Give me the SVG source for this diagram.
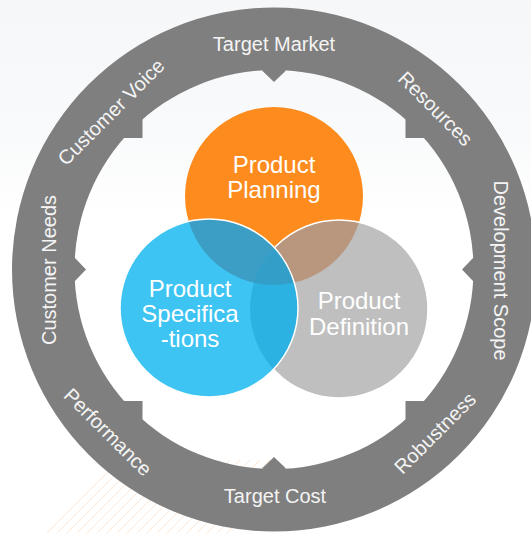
<svg xmlns="http://www.w3.org/2000/svg" width="531" height="533" viewBox="0 0 531 533">
  <defs>
    <linearGradient id="bg" x1="0" y1="0" x2="0" y2="1">
      <stop offset="0" stop-color="#f6f7f9"/>
      <stop offset="0.25" stop-color="#f9fafb"/>
      <stop offset="0.4" stop-color="#ffffff"/>
      <stop offset="1" stop-color="#ffffff"/>
    </linearGradient>
    <clipPath id="cO"><circle cx="274" cy="196" r="89"/></clipPath>
    <clipPath id="cG"><circle cx="339" cy="309" r="89"/></clipPath>
    <clipPath id="cHatch"><rect x="40" y="455" width="230" height="78"/></clipPath>
    <style>
      .ring { fill: #7f7f7f; }
      .rl { font-family: "Liberation Sans", Arial, sans-serif; font-size: 20px; fill: #f4f4f4; text-anchor: middle; }
      .cl { font-family: "Liberation Sans", Arial, sans-serif; font-size: 24px; fill: #ffffff; text-anchor: middle; }
      .hatch line { stroke: #fbe2c9; stroke-width: 1; }
    </style>
  </defs>
  <rect width="531" height="533" fill="url(#bg)"/>
  <g class="hatch" clip-path="url(#cHatch)" opacity="0.8">
    <line x1="40" y1="540" x2="120" y2="460"/>
    <line x1="50" y1="540" x2="130" y2="460"/>
    <line x1="60" y1="540" x2="140" y2="460"/>
    <line x1="70" y1="540" x2="150" y2="460"/>
    <line x1="80" y1="540" x2="160" y2="460"/>
    <line x1="90" y1="540" x2="170" y2="460"/>
    <line x1="100" y1="540" x2="180" y2="460"/>
    <line x1="110" y1="540" x2="190" y2="460"/>
    <line x1="120" y1="540" x2="200" y2="460"/>
    <line x1="130" y1="540" x2="210" y2="460"/>
    <line x1="140" y1="540" x2="220" y2="460"/>
    <line x1="150" y1="540" x2="230" y2="460"/>
    <line x1="160" y1="540" x2="240" y2="460"/>
    <line x1="170" y1="540" x2="250" y2="460"/>
    <line x1="180" y1="540" x2="260" y2="460"/>
    <line x1="190" y1="540" x2="270" y2="460"/>
    <line x1="200" y1="540" x2="280" y2="460"/>
    <line x1="210" y1="540" x2="290" y2="460"/>
    <line x1="220" y1="540" x2="300" y2="460"/>
  </g>

  <g id="ring">
    <path class="ring" fill-rule="evenodd" d="M12,269.5 A262,262 0 1 1 536,269.5 A262,262 0 1 1 12,269.5 Z M74.5,269.5 A199.5,199.5 0 1 0 473.5,269.5 A199.5,199.5 0 1 0 74.5,269.5 Z"/>
    <polygon class="ring" points="262.5,60 285.5,60 285.5,71 274,82 262.5,71"/>
    <polygon class="ring" points="262.5,479 285.5,479 285.5,468 274,457 262.5,468"/>
    <polygon class="ring" points="64,258 75,258 86,269.5 75,281 64,281"/>
    <polygon class="ring" points="484,258 473,258 462,269.5 473,281 484,281"/>
    <polygon class="ring" points="142.5,138 142.5,112 116.5,112 116.5,138"/>
    <polygon class="ring" points="405.5,138 405.5,112 431.5,112 431.5,138"/>
    <polygon class="ring" points="142.5,401 142.5,427 116.5,427 116.5,401"/>
    <polygon class="ring" points="405.5,401 405.5,427 431.5,427 431.5,401"/>
  </g>

  <g id="label-target-market"><text class="rl" x="274" y="51">Target Market</text></g>
  <g id="label-resources"><text class="rl" transform="translate(435.5,108.5) rotate(45)" y="7">Resources</text></g>
  <g id="label-development-scope"><text class="rl" transform="translate(500.5,270.5) rotate(90)" y="7">Development Scope</text></g>
  <g id="label-robustness"><text class="rl" transform="translate(435,433) rotate(-45)" y="7">Robustness</text></g>
  <g id="label-target-cost"><text class="rl" x="275" y="503">Target Cost</text></g>
  <g id="label-performance"><text class="rl" transform="translate(108,432) rotate(45)" y="7">Performance</text></g>
  <g id="label-customer-needs"><text class="rl" transform="translate(48.5,270) rotate(-90)" y="7">Customer Needs</text></g>
  <g id="label-customer-voice"><text class="rl" transform="translate(111,112) rotate(-45)" y="7">Customer Voice</text></g>

  <g id="venn">
    <circle id="c-orange" cx="274" cy="196" r="89" fill="#fd8b1d"/>
    <circle cx="339" cy="309" r="89" fill="#bfbfbf"/>
    <circle cx="339" cy="309" r="89" fill="#b9977f" clip-path="url(#cO)"/>
    <circle cx="339" cy="309" r="89" fill="none" stroke="#ffffff" stroke-width="1.5"/>
    <circle cx="209" cy="308" r="89" fill="#3dc4f2"/>
    <circle cx="209" cy="308" r="89" fill="#3d9ec5" clip-path="url(#cO)"/>
    <circle cx="209" cy="308" r="89" fill="#2cb2e2" clip-path="url(#cG)"/>
    <g clip-path="url(#cO)">
      <circle cx="209" cy="308" r="89" fill="#339ec8" clip-path="url(#cG)"/>
    </g>
    <circle cx="209" cy="308" r="89" fill="none" stroke="#ffffff" stroke-width="1.5"/>
  </g>

  <g id="node-product-planning">
    <text class="cl" x="274" y="173">Product</text>
    <text class="cl" x="274" y="198">Planning</text>
  </g>
  <g id="node-product-specifications">
    <text class="cl" x="190" y="297">Product</text>
    <text class="cl" x="190" y="322">Specifica</text>
    <text class="cl" x="190" y="347">-tions</text>
  </g>
  <g id="node-product-definition">
    <text class="cl" x="359" y="309" fill="#f7f7f7">Product</text>
    <text class="cl" x="359" y="335" fill="#f7f7f7">Definition</text>
  </g>
</svg>
